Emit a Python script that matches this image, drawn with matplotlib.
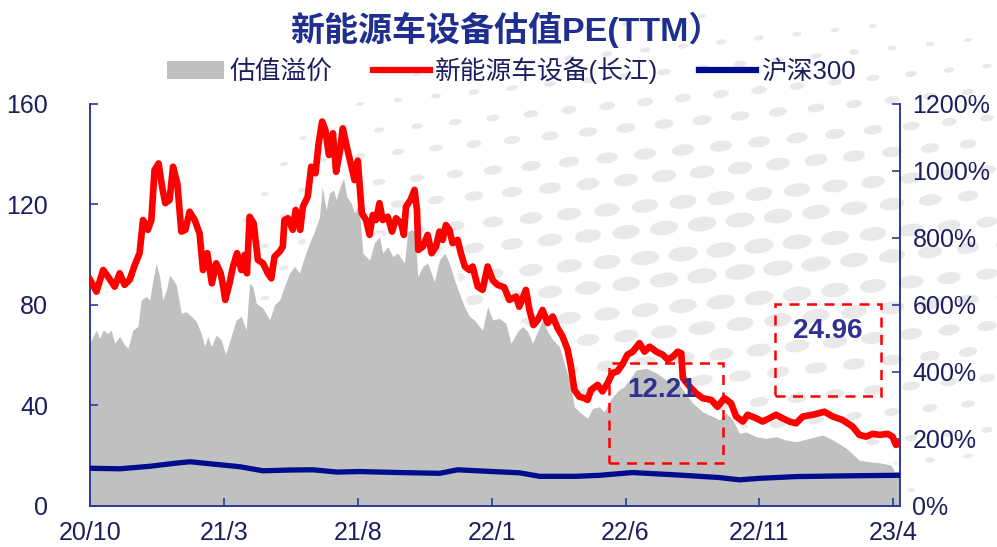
import numpy as np
import matplotlib
matplotlib.use('Agg')
import matplotlib.pyplot as plt
from matplotlib.patches import Ellipse, Rectangle, Patch
from matplotlib.lines import Line2D
from matplotlib.ticker import FuncFormatter

# x positions are months since 2020/10
sector_t = [0.00, 0.24, 0.49, 0.67, 0.92, 1.11, 1.29, 1.48, 1.67, 1.85,
            1.98, 2.16, 2.29, 2.41, 2.56, 2.69, 2.81, 2.97, 3.10, 3.26,
            3.41, 3.56, 3.72, 3.91, 4.09, 4.22, 4.38, 4.55, 4.71, 4.88,
            4.98, 5.05, 5.21, 5.34, 5.49, 5.65, 5.77, 5.86, 5.96, 6.11,
            6.27, 6.46, 6.64, 6.77, 6.89, 7.08, 7.20, 7.26, 7.39, 7.57,
            7.68, 7.85, 7.95, 8.13, 8.26, 8.42, 8.54, 8.67, 8.79, 8.92,
            9.07, 9.19, 9.34, 9.44, 9.59, 9.75, 9.88, 10.00, 10.15, 10.31,
            10.44, 10.56, 10.68, 10.81, 10.93, 11.12, 11.28, 11.43, 11.62, 11.72,
            11.80, 11.97, 12.12, 12.21, 12.26, 12.43, 12.61, 12.76, 12.92, 13.05,
            13.17, 13.29, 13.42, 13.54, 13.73, 13.85, 14.00, 14.17, 14.29, 14.48,
            14.66, 14.85, 15.04, 15.22, 15.47, 15.66, 15.91, 16.03, 16.28, 16.41,
            16.56, 16.72, 16.90, 17.09, 17.28, 17.46, 17.65, 17.84, 17.96, 18.09,
            18.27, 18.46, 18.58, 18.71, 18.96, 19.14, 19.33, 19.51, 19.70, 19.89,
            20.07, 20.27, 20.52, 20.71, 20.90, 21.15, 21.39, 21.58, 21.77, 21.95,
            22.08, 22.14, 22.39, 22.64, 22.88, 23.20, 23.44, 23.69, 23.94, 24.13,
            24.38, 24.56, 24.88, 25.12, 25.37, 25.62, 25.87, 26.12, 26.37, 26.62,
            26.99, 27.43, 27.74, 28.11, 28.48, 28.73, 28.98, 29.23, 29.48, 29.79,
            29.97, 30.10, 30.22]
sector_pe = [90.0, 85.3, 93.9, 91.3, 87.3, 92.6, 88.0, 90.0, 95.9, 100.6,
             113.8, 109.9, 113.8, 133.7, 136.3, 127.1, 120.5, 121.8, 135.0, 128.4,
             109.2, 109.9, 117.1, 113.8, 108.5, 93.9, 100.6, 88.6, 96.6, 92.6,
             87.0, 82.0, 88.6, 95.3, 100.6, 93.9, 99.9, 92.6, 115.1, 112.5,
             97.9, 96.6, 92.6, 90.6, 99.2, 101.2, 103.2, 113.8, 114.5, 109.9,
             117.8, 109.9, 119.1, 123.1, 135.0, 132.4, 144.4, 153.0, 149.6, 139.7,
             148.3, 133.0, 141.7, 150.3, 143.0, 135.7, 129.7, 137.4, 116.5, 113.8,
             107.9, 115.8, 113.8, 120.5, 113.8, 115.1, 109.2, 114.5, 112.5, 107.9,
             119.1, 121.8, 125.8, 117.8, 101.9, 103.2, 107.9, 100.6, 103.2, 109.2,
             105.9, 111.8, 109.9, 104.6, 105.9, 100.6, 95.3, 93.9, 95.3, 87.3,
             86.0, 95.3, 89.8, 88.0, 87.0, 82.0, 83.3, 79.3, 86.0, 78.0,
             72.0, 74.0, 78.0, 72.8, 75.4, 70.8, 67.4, 62.1, 55.5, 46.2,
             43.5, 42.9, 42.2, 46.2, 48.2, 45.6, 48.9, 52.9, 53.6, 56.5,
             60.2, 61.4, 64.8, 61.4, 63.4, 61.4, 60.2, 58.2, 59.5, 61.4,
             60.8, 50.9, 47.6, 44.8, 42.9, 42.2, 39.5, 42.9, 40.9, 35.6,
             33.6, 36.3, 34.9, 33.6, 34.9, 36.3, 34.9, 33.6, 32.9, 35.6,
             36.3, 37.5, 35.6, 34.2, 31.6, 28.3, 27.6, 28.7, 28.3, 28.7,
             27.6, 24.3, 24.96]

premium_t = [0.00, 0.11, 0.24, 0.36, 0.49, 0.67, 0.79, 0.92, 1.11, 1.29,
             1.42, 1.60, 1.79, 1.91, 2.10, 2.23, 2.35, 2.47, 2.60, 2.72,
             2.85, 2.97, 3.10, 3.22, 3.41, 3.59, 3.78, 3.97, 4.15, 4.28,
             4.40, 4.53, 4.71, 4.90, 5.06, 5.27, 5.46, 5.65, 5.83, 5.96,
             6.08, 6.21, 6.46, 6.71, 6.89, 7.08, 7.26, 7.45, 7.64, 7.82,
             8.01, 8.20, 8.38, 8.57, 8.67, 8.82, 8.94, 9.09, 9.19, 9.34,
             9.47, 9.59, 9.75, 9.88, 10.04, 10.19, 10.44, 10.62, 10.81, 10.93,
             11.12, 11.31, 11.49, 11.74, 11.87, 12.01, 12.14, 12.24, 12.43, 12.61,
             12.86, 13.05, 13.24, 13.42, 13.61, 13.79, 13.98, 14.17, 14.35, 14.54,
             14.66, 14.85, 15.04, 15.29, 15.53, 15.72, 15.97, 16.16, 16.34, 16.53,
             16.72, 16.90, 17.09, 17.28, 17.53, 17.71, 17.90, 18.09, 18.33, 18.58,
             18.77, 19.02, 19.20, 19.39, 19.58, 19.76, 19.95, 20.14, 20.40, 20.77,
             21.15, 21.52, 21.89, 22.14, 22.51, 22.88, 23.26, 23.51, 23.76, 24.00,
             24.25, 24.50, 24.88, 25.25, 25.62, 26.00, 26.37, 26.87, 27.36, 27.74,
             28.23, 28.73, 29.10, 29.48, 29.91, 30.04, 30.22]
premium_pct = [486, 506, 525, 500, 525, 515, 525, 486, 506, 481,
               471, 525, 536, 615, 625, 615, 675, 725, 685, 615,
               645, 689, 675, 660, 575, 580, 566, 551, 515, 476,
               506, 476, 510, 496, 452, 506, 555, 566, 525, 665,
               655, 605, 590, 555, 600, 615, 655, 695, 715, 695,
               744, 785, 819, 863, 953, 884, 933, 944, 914, 953,
               978, 923, 904, 874, 904, 755, 734, 785, 804, 755,
               774, 744, 755, 725, 819, 824, 819, 685, 715, 725,
               670, 734, 755, 725, 675, 635, 595, 566, 555, 536,
               525, 595, 555, 560, 545, 486, 521, 536, 521, 486,
               521, 555, 521, 496, 476, 426, 376, 296, 277, 262,
               291, 296, 281, 311, 332, 347, 356, 376, 406, 411,
               397, 376, 376, 347, 307, 281, 267, 257, 277, 257,
               217, 221, 207, 202, 207, 197, 192, 202, 212, 197,
               173, 137, 132, 129, 122, 103, 104]

hs300_t = [0.00, 1.12, 2.24, 3.17, 3.73, 4.48, 5.60, 6.46, 7.46, 8.32,
           9.22, 10.07, 11.57, 13.06, 13.73, 15.04, 16.04, 16.79, 18.13, 19.03,
           20.26, 22.01, 23.51, 24.25, 25.00, 26.38, 28.36, 30.22]
hs300_pe = [15.0, 14.8, 15.8, 17.0, 17.6, 16.8, 15.6, 14.0, 14.3, 14.4,
            13.5, 13.7, 13.3, 13.0, 14.4, 13.7, 13.2, 11.8, 11.8, 12.2,
            13.3, 12.3, 11.3, 10.4, 11.0, 11.7, 12.0, 12.21]

tick_months = [0, 5, 10, 15, 20, 25, 30]
tick_labels = ['20/10', '21/3', '21/8', '22/1', '22/6', '22/11', '23/4']

callouts = ['12.21', '24.96']

NAVY = '#1c1f5e'
AXIS_BLUE = '#2e3a9a'
TITLE_BLUE = '#1f2f8f'
RED = '#ff0000'
HS_BLUE = '#000d8c'
GRAY = '#c0c0c0'

plt.rcParams['font.family'] = ['Liberation Sans', 'Noto Sans CJK SC', 'DejaVu Sans']


def draw_dots(fig):
    # light halftone dots behind everything
    bg = fig.add_axes([0, 0, 1, 1], zorder=-10)
    bg.set_xlim(0, 997)
    bg.set_ylim(547, 0)
    bg.axis('off')
    for i in range(22):
        for j in range(30):
            x = j * 38 + (i % 2) * 19 - 20
            y = i * 26 - j * 4 + 40
            f = np.exp(-((x - 740) / 430.0) ** 2 - ((y - 260) / 210.0) ** 2)
            if f < 0.25:
                continue
            bg.add_patch(Ellipse((x, y), 30 * f, 15 * f, angle=-8,
                                 color='#e9e9e9', lw=0))


def run():
    fig = plt.figure(figsize=(9.97, 5.47), dpi=100)
    draw_dots(fig)

    ax = fig.add_axes([0.0903, 0.075, 0.8124, 0.735])
    ax2 = ax.twinx()
    ax.set_zorder(ax2.get_zorder() + 1)
    ax.patch.set_visible(False)
    ax2.patch.set_visible(False)

    # valuation premium area on the right axis, with a white rim on top
    ax2.plot(premium_t, premium_pct, color='white', lw=6, alpha=0.85, zorder=1)
    ax2.fill_between(premium_t, 0, premium_pct, color=GRAY, lw=0, zorder=2)
    ax2.set_ylim(0, 1200)
    ax2.set_yticks(np.arange(0, 1201, 200))
    ax2.yaxis.set_major_formatter(FuncFormatter(lambda v, p: '{0:.0f}%'.format(v)))

    ax.plot(sector_t, sector_pe, color=RED, lw=4.8, solid_joinstyle='round', zorder=3)
    ax.plot(hs300_t, hs300_pe, color=HS_BLUE, lw=3.8, zorder=3)
    ax.set_ylim(0, 160)
    ax.set_yticks(np.arange(0, 161, 40))
    ax.set_xlim(0, 30.25)
    ax2.set_xlim(0, 30.25)
    ax.set_xticks(tick_months)
    ax.set_xticklabels(tick_labels)

    for a in (ax, ax2):
        a.spines['top'].set_visible(False)
        for s in ('left', 'right', 'bottom'):
            a.spines[s].set_color(AXIS_BLUE)
            a.spines[s].set_linewidth(1.2)
        a.tick_params(direction='in', length=6, width=1.2, color=AXIS_BLUE,
                      labelsize=18, labelcolor=NAVY)
    ax.tick_params(axis='y', pad=30)
    ax.tick_params(axis='x', pad=11)
    ax2.tick_params(axis='y', pad=9)

    # dashed callout boxes
    for (x0, y0, w, h), txt, (tx, ty) in zip(
            [(0.641, 0.107, 0.141, 0.249), (0.846, 0.274, 0.131, 0.229)],
            callouts, [(0.706, 0.289), (0.911, 0.435)]):
        ax.add_patch(Rectangle((x0, y0), w, h, transform=ax.transAxes, fill=False,
                               ec=RED, lw=1.8, ls=(0, (4, 3)), zorder=5))
        ax.text(tx, ty, txt, transform=ax.transAxes, ha='center', va='center',
                fontsize=20, fontweight='bold', color='#2e3192', zorder=6)

    fig.text(0.508, 0.945, '新能源车设备估值PE(TTM）', ha='center', va='center',
             fontsize=24.5, fontweight='bold', color=TITLE_BLUE)

    handles = [Patch(color=GRAY, lw=0),
               Line2D([], [], color=RED, lw=4.5),
               Line2D([], [], color=HS_BLUE, lw=4.5)]
    fig.legend(handles, ['估值溢价', '新能源车设备(长江)', '沪深300'],
               loc='center', bbox_to_anchor=(0.513, 0.872), ncol=3, frameon=False,
               fontsize=18.5, labelcolor=NAVY, handlelength=2.2, handleheight=0.7,
               handletextpad=0.2, columnspacing=1.6)

    fig.savefig('out.png', dpi=100)


if __name__ == '__main__':
    run()
